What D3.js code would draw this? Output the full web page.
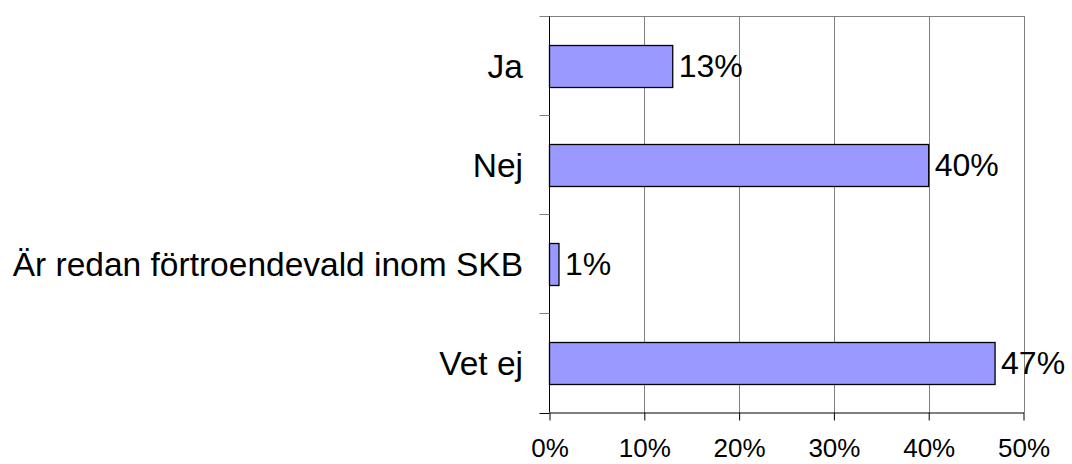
<!DOCTYPE html>
<html>
<head>
<meta charset="utf-8">
<script src="https://cdn.jsdelivr.net/npm/d3@7"></script>
<style>
  body { margin: 0; background: #fff; }
  svg { display: block; font-family: Arial, "Liberation Sans", sans-serif; }
</style>
</head>
<body>
<svg id="chart" width="1072" height="464"></svg>
<script>
// data
const categories = ["Ja", "Nej", "Är redan förtroendevald inom SKB", "Vet ej"];
const values = [0.13, 0.40, 0.01, 0.47];
const xTicks = [0, 0.1, 0.2, 0.3, 0.4, 0.5];

const data = categories.map((c, i) => ({ cat: c, value: values[i] }));

const plot = { left: 549.5, right: 1023.5, top: 16, bottom: 412.5 };

const svg = d3.select("#chart");

const x = d3.scaleLinear()
    .domain([0, 0.5])
    .range([plot.left, plot.right]);

const pad = 0.58;
const y = d3.scaleBand()
    .domain(categories)
    .range([plot.top, plot.bottom])
    .paddingInner(pad)
    .paddingOuter(pad / 2);

const pct = d3.format(".0%");

// gridlines
svg.append("g")
    .selectAll("line")
    .data(xTicks.slice(1))
    .join("line")
        .attr("x1", d => Math.round(x(d)) + 0.5)
        .attr("x2", d => Math.round(x(d)) + 0.5)
        .attr("y1", plot.top)
        .attr("y2", plot.bottom)
        .attr("stroke", "#808080")
        .attr("stroke-width", 1);

// top border
svg.append("line")
    .attr("x1", plot.left).attr("x2", Math.round(x(0.5)) + 0.5)
    .attr("y1", plot.top + 0.5).attr("y2", plot.top + 0.5)
    .attr("stroke", "#808080");

// bars
svg.append("g")
    .selectAll("rect")
    .data(data)
    .join("rect")
        .attr("x", x(0))
        .attr("y", d => Math.round(y(d.cat)) + 0.5)
        .attr("width", d => x(d.value) - x(0))
        .attr("height", Math.round(y.bandwidth()))
        .attr("fill", "#9999ff")
        .attr("stroke", "#000")
        .attr("stroke-width", 1.3);

// value labels
svg.append("g")
    .selectAll("text")
    .data(data)
    .join("text")
        .attr("x", d => x(d.value) + 6)
        .attr("y", d => y(d.cat) + y.bandwidth() / 2)
        .attr("dy", "0.36em")
        .style("font-size", "32px")
        .text(d => pct(d.value));

// category labels
svg.append("g")
    .selectAll("text")
    .data(categories)
    .join("text")
        .attr("x", 523)
        .attr("y", d => y(d) + y.bandwidth() / 2)
        .attr("dy", "0.36em")
        .attr("text-anchor", "end")
        .style("font-size", "33.5px")
        .text(d => d);

// y axis line and ticks at band boundaries
const bounds = categories.map(c => y(c) - y.step() * pad / 2).concat([plot.bottom]);
svg.append("line")
    .attr("x1", plot.left).attr("x2", plot.left)
    .attr("y1", plot.top).attr("y2", plot.bottom)
    .attr("stroke", "#000");
svg.append("g")
    .selectAll("line")
    .data(bounds)
    .join("line")
        .attr("x1", plot.left - 10)
        .attr("x2", plot.left)
        .attr("y1", d => Math.round(d) + 0.5)
        .attr("y2", d => Math.round(d) + 0.5)
        .attr("stroke", d => d === plot.bottom ? "#000" : "#808080");

// x axis
const xAxis = svg.append("g")
    .attr("transform", `translate(0,${plot.bottom})`)
    .call(d3.axisBottom(x)
        .tickValues(xTicks)
        .tickFormat(pct)
        .tickSizeInner(8)
        .tickSizeOuter(0)
        .tickPadding(18));
xAxis.select(".domain").attr("stroke", "#000");
xAxis.selectAll(".tick line").attr("stroke", "#000");
xAxis.selectAll("text")
    .attr("fill", "#000")
    .style("font-size", "26px")
    .style("font-family", "Arial, 'Liberation Sans', sans-serif");
</script>
</body>
</html>
